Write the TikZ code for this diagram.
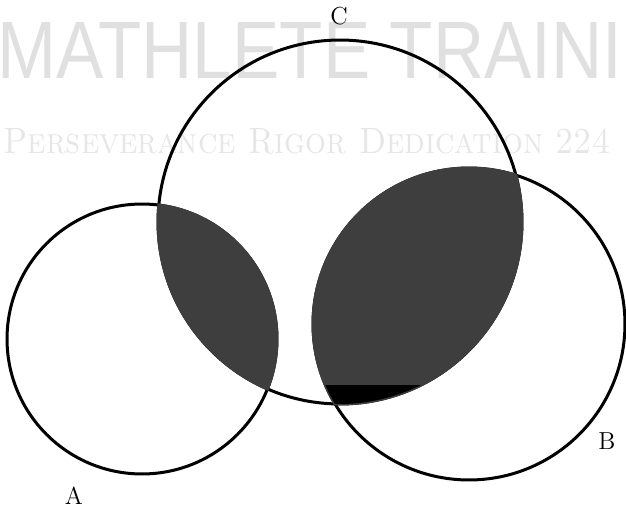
\documentclass[tikz,border=0pt]{standalone}
\usepackage{fontspec}
\usepackage{graphicx}
\newfontfamily\wmsans{Liberation Sans}
\definecolor{lensgray}{RGB}{62,62,62}
\definecolor{wmgray}{RGB}{224,224,224}
\definecolor{wmlight}{RGB}{230,230,230}
\tikzset{
  ringline/.style={draw=black,line width=0.06cm},
  lensfill/.style={fill=lensgray,draw=lensgray,line width=0.06cm},
  setlabel/.style={inner sep=0pt,font=\fontsize{14}{16}\selectfont},
  wmtext/.style={inner sep=0pt,anchor=north west},
}

\begin{document}
\begin{tikzpicture}[x=0.02cm,y=-0.02cm]
  \useasboundingbox (0,0) rectangle (626,510);
  % watermark
  \node[wmtext,text=wmgray] (wmtop) at (-3,22)
    {\resizebox{12.5cm}{1.12cm}{\wmsans MATHLETE TRAINI}};
  \node[wmtext,text=wmlight] (wmsub) at (3,128)
    {\resizebox{12.14cm}{0.5cm}{\scshape Perseverance Rigor Dedication 224}};
  % centres
  \coordinate (cA) at (142,339);
  \coordinate (cB) at (469,324);
  \coordinate (cC) at (340,222);
  % the three sets
  \draw[ringline] (cA) circle (2.70cm);
  \draw[ringline] (cB) circle (3.12cm);
  \draw[ringline] (cC) circle (3.64cm);
  % A and C
  \begin{scope}
    \clip (cA) circle (2.73cm);
    \path[lensfill] (cC) circle (3.64cm);
  \end{scope}
  % C and B
  \begin{scope}
    \clip (cB) circle (3.15cm);
    \path[lensfill] (cC) circle (3.64cm);
  \end{scope}
  \begin{scope}
    \clip (cB) circle (3.12cm);
    \clip (cC) circle (3.64cm);
    \fill[black] (300,385) rectangle (460,420);
  \end{scope}
  % labels
  \node[setlabel] (labC) at (339,16) {C};
  \node[setlabel] (labB) at (607,441) {B};
  \node[setlabel] (labA) at (74,496) {A};
\end{tikzpicture}
\end{document}
